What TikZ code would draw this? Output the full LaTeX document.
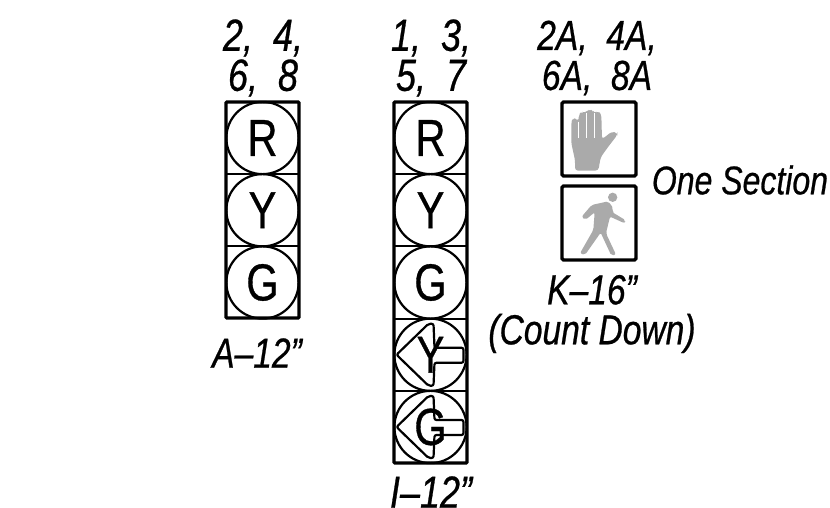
\documentclass[tikz,border=0pt]{standalone}
\usepackage{fontspec}
\usetikzlibrary{positioning}
\setmainfont[FakeStretch=0.8,FakeBold=0.6]{Liberation Sans}
\definecolor{figgray}{RGB}{170,170,170}

\begin{document}
\begin{tikzpicture}[
    x=1pt, y=1pt,
    housing/.style={rectangle, draw, line width=3.4pt, rounded corners=1pt, minimum width=73pt, inner sep=0pt, outer sep=0pt},
    lamp/.style={circle, draw, line width=2.2pt, minimum size=72.25pt, inner sep=0pt, outer sep=0pt, font=\fontsize{52}{52}\selectfont},
    rail/.style={line width=2pt},
    turnarrow/.style={line width=2.2pt, rounded corners=2pt, line join=round},
    signbox/.style={rectangle, draw, line width=3.4pt, rounded corners=1.5pt, minimum size=74pt, inner sep=0pt, outer sep=0pt},
    label/.style={inner sep=0pt, align=center, font=\fontsize{#1}{40}\selectfont\itshape},
    label/.default=45
]
\useasboundingbox (0,0) rectangle (830,508);

% five and three section heads
\node[housing, minimum height=216pt] (headA) at (262.5,298) {};
\node[housing, minimum height=361pt] (headI) at (430.5,225.5) {};

\node[lamp] (aR) at (262.5,370) {R};
\node[lamp, below=0pt of aR] (aY) {Y};
\node[lamp, below=0pt of aY] (aG) {G};

\node[lamp] (iR) at (430.5,370) {R};
\node[lamp, below=0pt of iR] (iY) {Y};
\node[lamp, below=0pt of iY] (iG) {G};
\node[lamp, below=0pt of iG] (iYa) {Y};
\node[lamp, below=0pt of iYa] (iGa) {G};

\draw[rail] (aR.south -| headA.west) -- (aR.south -| headA.east);
\draw[rail] (aY.south -| headA.west) -- (aY.south -| headA.east);
\foreach \lampname in {iR,iY,iG,iYa}
    \draw[rail] (\lampname.south -| headI.west) -- (\lampname.south -| headI.east);

% arrow faces
\foreach \lampname in {iYa,iGa}
    \draw[turnarrow, shift={(\lampname.center)}] (4,-8) -- (33,-8) -- (33,7) -- (4,7) -- (3,31) -- (-2,31) -- (-34,0) -- (-2,-31) -- (3,-31) -- cycle;

% pedestrian signs
\node[signbox] (hand) at (599,369) {};
\node[signbox, below=10pt of hand] (walker) {};

\begin{scope}[shift={(530,428)}, x=0.3333pt, y=-0.3333pt]
\fill[figgray, rounded corners=3pt] (135,272) -- (135,240) -- (124,190) -- (124,125) -- (129,115) -- (140,116) -- (145,125) -- (147,103) -- (155,95) -- (164,100) -- (169,95) -- (180,87) -- (190,95) -- (193,100) -- (205,93) -- (214,103) -- (216,178) -- (245,155) -- (262,158) -- (262,165) -- (235,200) -- (212,232) -- (205,272) -- cycle;
\draw[white, line width=0.5pt] (145,125) -- (145,175);
\draw[white, line width=0.5pt] (168,100) -- (168,175);
\draw[white, line width=0.5pt] (192,100) -- (192,175);
\fill[figgray] (248,352) circle (14);
\fill[figgray, rounded corners=2pt] (185,375) -- (235,364) -- (250,385) -- (246,396) -- (287,421) -- (284,430) -- (240,410) -- (228,460) -- (258,524) -- (244,527) -- (212,458) -- (165,525) -- (150,520) -- (190,450) -- (194,397) -- (166,420) -- (155,410) -- cycle;
\end{scope}

% labels
\node[label] (lblA) at (263,450) {2,\ \ 4,\\6,\ \ 8};
\node[label] (lblI) at (431,450) {1,\ \ 3,\\5,\ \ 7};
\node[label=42] (lblK) at (597,450) {2A,\ \ 4A,\\6A,\ \ 8A};
\node[label=40] (lblSec) at (740,328) {One Section};
\node[label=42] (lblKtype) at (592,194) {K–16"\\(Count Down)};
\node[label=42] (lblAtype) at (257,155) {A–12"};
\node[label=45] (lblItype) at (431,16) {I–12"};
\end{tikzpicture}
\end{document}
